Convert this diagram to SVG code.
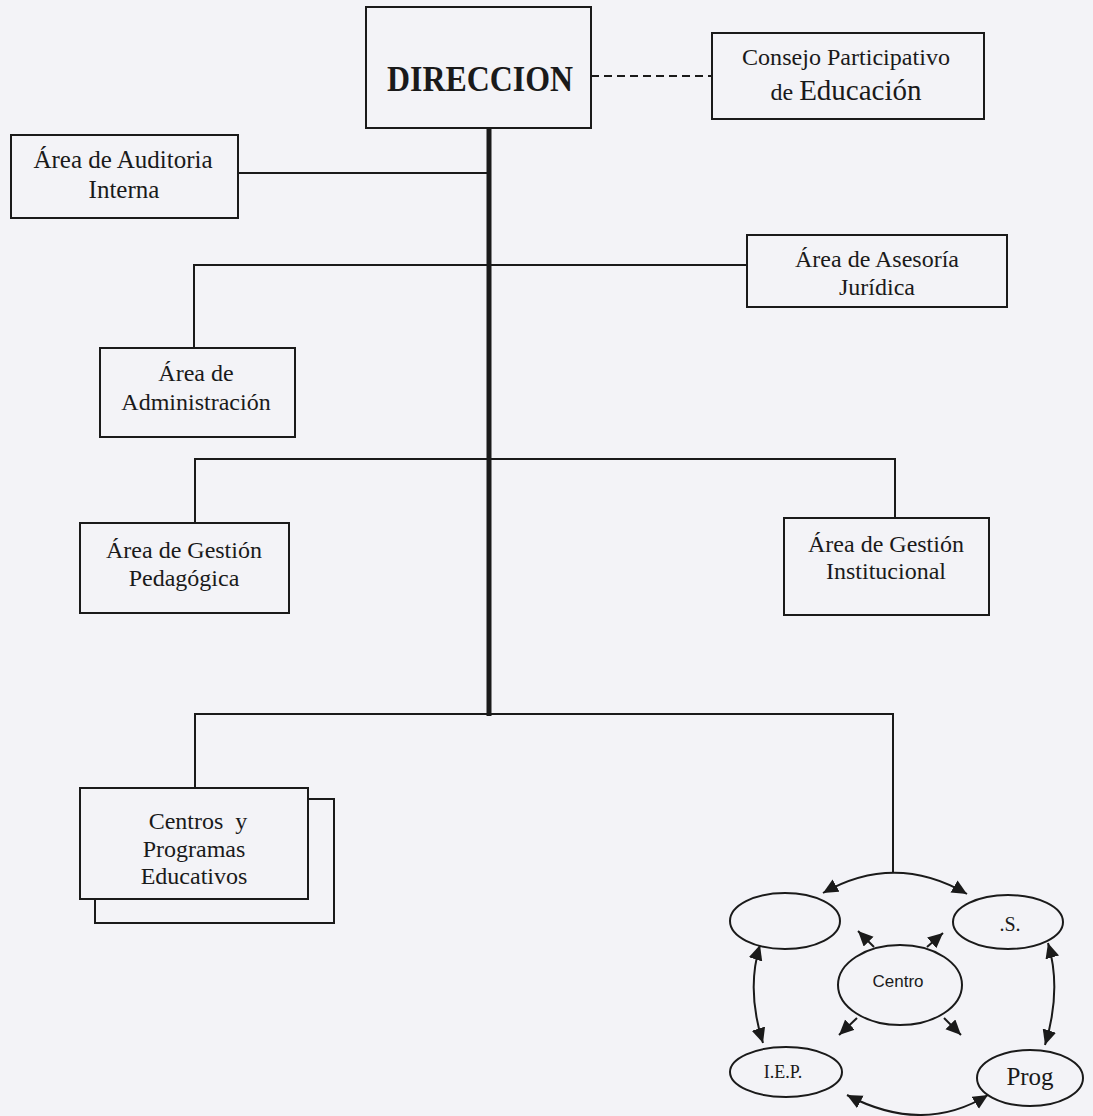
<svg xmlns="http://www.w3.org/2000/svg" width="1093" height="1116" viewBox="0 0 1093 1116">
<style>
.bg{fill:#f3f3f7}
.box{fill:#f3f3f7;stroke:#1a1a1a;stroke-width:2}
.ell{fill:#f3f3f7;stroke:#1a1a1a;stroke-width:2}
.ln{fill:none;stroke:#1a1a1a;stroke-width:2}
.arr{fill:none;stroke:#1a1a1a;stroke-width:2;marker-end:url(#ah)}
.darr{fill:none;stroke:#1a1a1a;stroke-width:2;marker-start:url(#ah);marker-end:url(#ah)}
.t{font-family:"Liberation Serif","Times New Roman",serif;font-size:24px;fill:#1a1a1a;text-anchor:middle}
.s{font-family:"Liberation Sans",Arial,sans-serif;font-size:17px;fill:#1a1a1a;text-anchor:middle}
</style>
<defs>
<marker id="ah" markerUnits="userSpaceOnUse" markerWidth="18" markerHeight="16" refX="15" refY="7" orient="auto-start-reverse">
<path d="M0,0 L15,7 L0,14 z" fill="#1a1a1a"/>
</marker>
</defs>
<rect class="bg" x="0" y="0" width="1093" height="1116"/>

<g id="connectors">
<line x1="489" y1="128" x2="489" y2="716" stroke="#1a1a1a" stroke-width="5"/>
<line class="ln" x1="591" y1="76" x2="712" y2="76" stroke-dasharray="8,5"/>
<line class="ln" x1="238" y1="173" x2="489" y2="173"/>
<polyline class="ln" points="194,348 194,265 747,265"/>
<polyline class="ln" points="195,523 195,459 895,459 895,518"/>
<polyline class="ln" points="195,788 195,714 893,714 893,872"/>
<path class="darr" d="M823,893 Q895,852 967,894"/>
<path class="darr" d="M760,945 Q746,990 763,1043"/>
<path class="darr" d="M1048,943 Q1062,990 1045,1045"/>
<path class="darr" d="M847,1095 Q923,1135 988,1095"/>
<line class="arr" x1="874" y1="947" x2="858" y2="931"/>
<line class="arr" x1="927" y1="947" x2="943" y2="933"/>
<line class="arr" x1="857" y1="1018" x2="839" y2="1035"/>
<line class="arr" x1="944" y1="1018" x2="961" y2="1035"/>
</g>

<g id="direccion">
<rect class="box" x="366" y="7" width="225" height="121"/>
<text class="t" x="480" y="91" style="font-size:36px;font-weight:bold" textLength="186" lengthAdjust="spacingAndGlyphs">DIRECCION</text>
</g>

<g id="consejo">
<rect class="box" x="712" y="33" width="272" height="86"/>
<text class="t" x="846" y="65" style="font-size:24px" textLength="208" lengthAdjust="spacingAndGlyphs">Consejo Participativo</text>
<text class="t" x="846" y="100"><tspan>de </tspan><tspan style="font-size:29px">Educación</tspan></text>
</g>

<g id="auditoria">
<rect class="box" x="11" y="135" width="227" height="83"/>
<text class="t" x="123" y="168" style="font-size:25px">Área de Auditoria</text>
<text class="t" x="124" y="198" style="font-size:25px">Interna</text>
</g>

<g id="asesoria">
<rect class="box" x="747" y="235" width="260" height="72"/>
<text class="t" x="877" y="267">Área de Asesoría</text>
<text class="t" x="877" y="295">Jurídica</text>
</g>

<g id="administracion">
<rect class="box" x="100" y="348" width="195" height="89"/>
<text class="t" x="196" y="381">Área de</text>
<text class="t" x="196" y="410">Administración</text>
</g>

<g id="pedagogica">
<rect class="box" x="80" y="523" width="209" height="90"/>
<text class="t" x="184" y="558">Área de Gestión</text>
<text class="t" x="184" y="586">Pedagógica</text>
</g>

<g id="institucional">
<rect class="box" x="784" y="518" width="205" height="97"/>
<text class="t" x="886" y="552">Área de Gestión</text>
<text class="t" x="886" y="579">Institucional</text>
</g>

<g id="centros">
<rect class="box" x="95" y="799" width="239" height="124"/>
<rect class="box" x="80" y="788" width="228" height="111"/>
<text class="t" x="198" y="829" xml:space="preserve">Centros  y</text>
<text class="t" x="194" y="857">Programas</text>
<text class="t" x="194" y="884">Educativos</text>
</g>

<g id="ellipse-tl">
<ellipse class="ell" cx="785" cy="921" rx="55" ry="28"/>
</g>

<g id="ellipse-tr">
<ellipse class="ell" cx="1008" cy="922" rx="55" ry="27"/>
<text class="t" x="1010" y="931" style="font-size:20px">.S.</text>
</g>

<g id="ellipse-centro">
<ellipse class="ell" cx="900" cy="985" rx="62" ry="40"/>
<text class="s" x="898" y="987">Centro</text>
</g>

<g id="ellipse-iep">
<ellipse class="ell" cx="786" cy="1072" rx="56" ry="25"/>
<text class="t" x="783" y="1078" style="font-size:18px">I.E.P.</text>
</g>

<g id="ellipse-prog">
<ellipse class="ell" cx="1030" cy="1078" rx="53" ry="28"/>
<text class="t" x="1030" y="1085" style="font-size:25px">Prog</text>
</g>
</svg>
